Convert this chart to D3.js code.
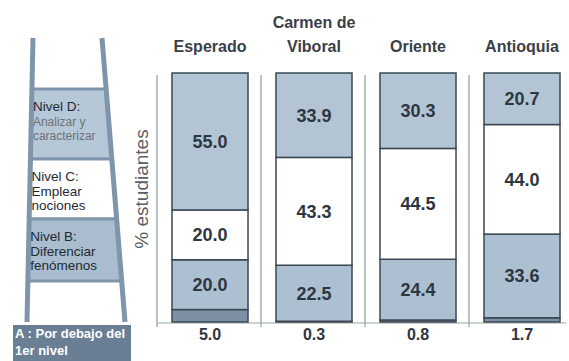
<!DOCTYPE html>
<html>
<head>
<meta charset="utf-8">
<script src="https://cdn.jsdelivr.net/npm/d3@7"></script>
<style>
  body { margin: 0; background: #fff; }
  text { font-family: "Liberation Sans", Arial, sans-serif; }
</style>
</head>
<body>
<div id="chart"></div>
<script>
// values, % of students per level
var categories = ["Esperado", "Carmen de Viboral", "Oriente", "Antioquia"];
var titleLines = [["Esperado"], ["Carmen de", "Viboral"], ["Oriente"], ["Antioquia"]];
var levelA = [5.0, 0.3, 0.8, 1.7];
var levelB = [20.0, 22.5, 24.4, 33.6];
var levelC = [20.0, 43.3, 44.5, 44.0];
var levelD = [55.0, 33.9, 30.3, 20.7];

var ladderLevels = [
  {key: "D", y0: 89, y1: 159, fill: "#b6c8d7", lines: ["Nivel D:", "Analizar y", "caracterizar"]},
  {key: "C", y0: 159, y1: 219, fill: "#ffffff", lines: ["Nivel C:", "Emplear", "nociones"]},
  {key: "B", y0: 219, y1: 281, fill: "#a9bdce", lines: ["Nivel B:", "Diferenciar", "fenómenos"]}
];

var width = 569, height = 361;
var svg = d3.select("#chart").append("svg")
  .attr("width", width)
  .attr("height", height);

var x = d3.scaleBand()
  .domain(categories)
  .range([156, 572])
  .paddingInner(0);

var y = d3.scaleLinear()
  .domain([0, 100])
  .range([322, 73]);

var barOffset = 16, barWidth = 76;

// stack the four levels
var rows = categories.map((c, i) => ({cat: c, A: levelA[i], B: levelB[i], C: levelC[i], D: levelD[i]}));
var stack = d3.stack().keys(["A", "B", "C", "D"]);
var series = stack(rows);
var fills = {A: "#7d90a3", B: "#adc0d1", C: "#ffffff", D: "#b3c5d5"};

// separators & baseline
svg.append("g").selectAll("line")
  .data(categories)
  .enter().append("line")
  .attr("x1", d => x(d) + 1).attr("x2", d => x(d) + 1)
  .attr("y1", 75).attr("y2", 327)
  .attr("stroke", "#8c9c9c").attr("stroke-width", 1.2);

svg.append("line")
  .attr("x1", 158).attr("x2", 566)
  .attr("y1", y(0) + 1).attr("y2", y(0) + 1)
  .attr("stroke", "#9aa6a6").attr("stroke-width", 1);

var layer = svg.append("g").selectAll("g")
  .data(series)
  .enter().append("g");

layer.selectAll("rect")
  .data(s => s.map(d => ({key: s.key, d: d})))
  .enter().append("rect")
  .attr("x", o => x(o.d.data.cat) + barOffset)
  .attr("width", barWidth)
  .attr("y", o => y(o.d[1]))
  .attr("height", o => y(o.d[0]) - y(o.d[1]))
  .attr("fill", o => fills[o.key])
  .attr("stroke", "#3b4854")
  .attr("stroke-width", 1.5);

// labels inside bars (B, C, D)
layer.filter(s => s.key != "A").selectAll("text")
  .data(s => s.map(d => ({key: s.key, d: d})))
  .enter().append("text")
  .attr("x", o => x(o.d.data.cat) + barOffset + barWidth / 2)
  .attr("y", o => (y(o.d[0]) + y(o.d[1])) / 2 + 6.5)
  .attr("text-anchor", "middle")
  .attr("font-size", 18)
  .attr("font-weight", "bold")
  .attr("fill", "#2e3641")
  .text(o => (o.d[1] - o.d[0]).toFixed(1));

// level A values under the axis
svg.append("g").selectAll("text")
  .data(categories)
  .enter().append("text")
  .attr("x", (d, i) => x(d) + barOffset + barWidth / 2)
  .attr("y", 340)
  .attr("text-anchor", "middle")
  .attr("font-size", 16)
  .attr("font-weight", "bold")
  .attr("fill", "#2e3641")
  .text((d, i) => levelA[i].toFixed(1));

// column titles
var titles = svg.append("g").selectAll("text")
  .data(categories)
  .enter().append("text")
  .attr("x", d => x(d) + barOffset + barWidth / 2)
  .attr("text-anchor", "middle")
  .attr("font-size", 16)
  .attr("font-weight", "bold")
  .attr("fill", "#3a4047");
titles.each(function(d, i) {
  var lines = titleLines[i];
  d3.select(this).selectAll("tspan")
    .data(lines)
    .enter().append("tspan")
    .attr("x", x(d) + barOffset + barWidth / 2)
    .attr("y", (l, j) => 52 - (lines.length - 1 - j) * 24)
    .text(l => l);
});

// y axis title
svg.append("text")
  .attr("transform", "translate(148,189) rotate(-90)")
  .attr("text-anchor", "middle")
  .attr("font-size", 19)
  .attr("fill", "#5a6066")
  .text("% estudiantes");

// ladder on the left
var rail = "#7f95ab";
var leftX = yy => 33 - 6 * (yy - 38) / 284;
var rightX = yy => 102 + 23 * (yy - 38) / 284;
var ladder = svg.append("g");

ladder.selectAll("polygon")
  .data(ladderLevels)
  .enter().append("polygon")
  .attr("points", d => [[leftX(d.y0), d.y0], [rightX(d.y0), d.y0], [rightX(d.y1), d.y1], [leftX(d.y1), d.y1]].join(" "))
  .attr("fill", d => d.fill)
  .attr("stroke", rail)
  .attr("stroke-width", 3);

ladder.append("line")
  .attr("x1", leftX(38)).attr("y1", 38).attr("x2", leftX(322)).attr("y2", 322)
  .attr("stroke", rail).attr("stroke-width", 5);
ladder.append("line")
  .attr("x1", rightX(38)).attr("y1", 38).attr("x2", rightX(322)).attr("y2", 322)
  .attr("stroke", rail).attr("stroke-width", 5);

ladderLevels.forEach(function(d) {
  var t = ladder.append("text")
    .attr("font-family", "'Liberation Sans Narrow', 'Liberation Sans', sans-serif")
    .attr("fill", "#1f2a33");
  d.lines.forEach(function(l, j) {
    t.append("tspan")
      .attr("x", leftX(d.y0) + 1)
      .attr("y", d.y0 + 22 + j * 14.5)
      .attr("font-size", d.key == "D" && j > 0 ? 12 : 13.5)
      .attr("fill", d.key == "D" && j > 0 ? "#6b7278" : "#1f2a33")
      .text(l);
  });
});

// level A box
ladder.append("rect")
  .attr("x", 13).attr("y", 325)
  .attr("width", 118).attr("height", 40)
  .attr("fill", "#6a7f93");
var aText = ladder.append("text")
  .attr("font-family", "'Liberation Sans Narrow', 'Liberation Sans', sans-serif")
  .attr("font-weight", "bold")
  .attr("font-size", 13)
  .attr("fill", "#ffffff");
aText.append("tspan").attr("x", 15).attr("y", 338).text("A : Por debajo del");
aText.append("tspan").attr("x", 15).attr("y", 355).text("1er nivel");
</script>
</body>
</html>
